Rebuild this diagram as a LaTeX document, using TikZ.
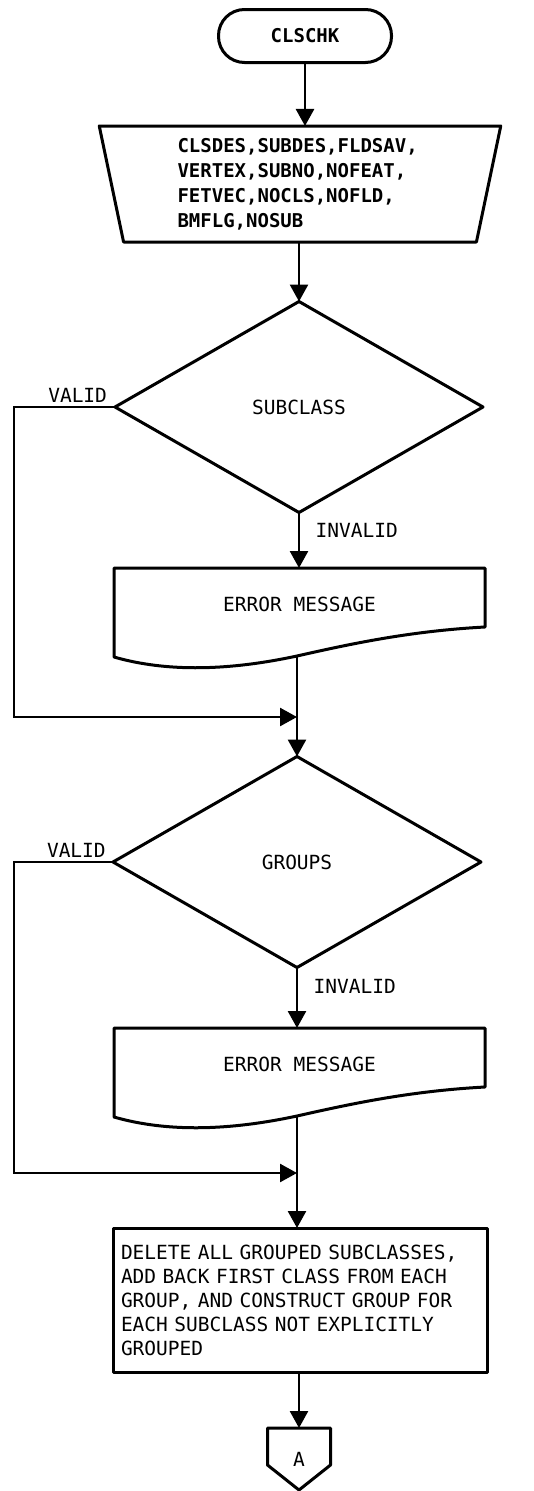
\documentclass[tikz,border=0pt]{standalone}
\usepackage{fontspec}
\setmainfont{DejaVu Sans Mono}
\usepackage{tikz}
\usetikzlibrary{arrows.meta,shapes.geometric}
\tikzset{
  shp/.style={draw,line width=3pt,line join=round},
  ar/.style={-{Triangle[length=17pt,width=18pt]},line width=2.6pt},
  txt/.style={font=\fontsize{19.5}{24}\selectfont},
  term/.style={shp,rounded corners=26pt,minimum width=173pt,minimum height=53pt,outer sep=0pt,font=\bfseries\fontsize{19}{23}\selectfont},
  inp/.style={shp,trapezium,trapezium stretches=true,trapezium left angle=80,trapezium right angle=80,shape border rotate=180,minimum width=403pt,minimum height=116pt,outer sep=0pt,text width=245pt,align=left,font=\bfseries\fontsize{19}{25}\selectfont},
  dec/.style={shp,txt,diamond,minimum width=368pt,minimum height=211pt,inner sep=0pt,outer sep=0pt},
  msg/.style={txt,minimum width=371pt,minimum height=72pt,outer sep=0pt},
  proc/.style={shp,txt,rectangle,minimum height=144pt,text width=358pt,inner xsep=8pt,outer sep=0pt,align=left},
  conn/.style={txt,minimum width=63pt,minimum height=62pt,inner sep=0pt,outer sep=0pt},
  lbl/.style={txt}
}
% error message document box, #1 name, #2 top edge
\newcommand{\errdoc}[2]{%
  \begin{scope}[shift={(0,#2)}]
    \node[msg] (#1) at (299.5,36) {ERROR MESSAGE};
    \draw[shp] (114,0) -- (485,0) -- (485,59) .. controls (410,63) and (350,76) .. (297,88) coordinate (#1b)
      .. controls (250,98) and (180,108) .. (114,89) -- cycle;
  \end{scope}}

\begin{document}
\begin{tikzpicture}[x=1pt,y=-1pt]
\useasboundingbox (0,0) rectangle (534,1491);
\node[term] (start) at (305,36) {CLSCHK};
\node[inp] (vars) at (300,184) {CLSDES,SUBDES,FLDSAV,\\VERTEX,SUBNO,NOFEAT,\\FETVEC,NOCLS,NOFLD,\\BMFLG,NOSUB};
\node[dec] (subcl) at (299,407) {SUBCLASS};
\errdoc{err1}{568}
\coordinate (j1) at (297,717);
\node[dec] (grp) at (297,862) {GROUPS};
\errdoc{err2}{1028}
\coordinate (j2) at (297,1173);
\node[proc] (del) at (300,1300) {DELETE ALL GROUPED SUBCLASSES,\\ADD BACK FIRST CLASS FROM EACH\\GROUP, AND CONSTRUCT GROUP FOR\\EACH SUBCLASS NOT EXPLICITLY\\GROUPED};
\node[conn] (offA) at (299,1459) {A};
\draw[shp] (offA.north west) -- (offA.north east) -- ++(0,37) -- (offA.south) -- ++(-31.5,-25) -- cycle;

\draw[ar] (start.south) -- (start.south |- vars.north);
\draw[ar] (subcl.north |- vars.south) -- (subcl.north);
\draw[ar] (subcl.south) -- node[lbl,right,xshift=12pt,pos=.32]{INVALID} (subcl.south |- err1.north);
\draw[ar] (subcl.west) -- node[lbl,above,pos=.37]{VALID} ++(-101,0) |- (j1);
\draw[ar] (err1b) -- (grp.north);
\draw[ar] (grp.south) -- node[lbl,right,xshift=12pt,pos=.32]{INVALID} (grp.south |- err2.north);
\draw[ar] (grp.west) -- node[lbl,above,pos=.37]{VALID} ++(-99,0) |- (j2);
\draw[ar] (err2b) -- (j2 |- del.north);
\draw[ar] (offA.north |- del.south) -- (offA.north);
\end{tikzpicture}
\end{document}
